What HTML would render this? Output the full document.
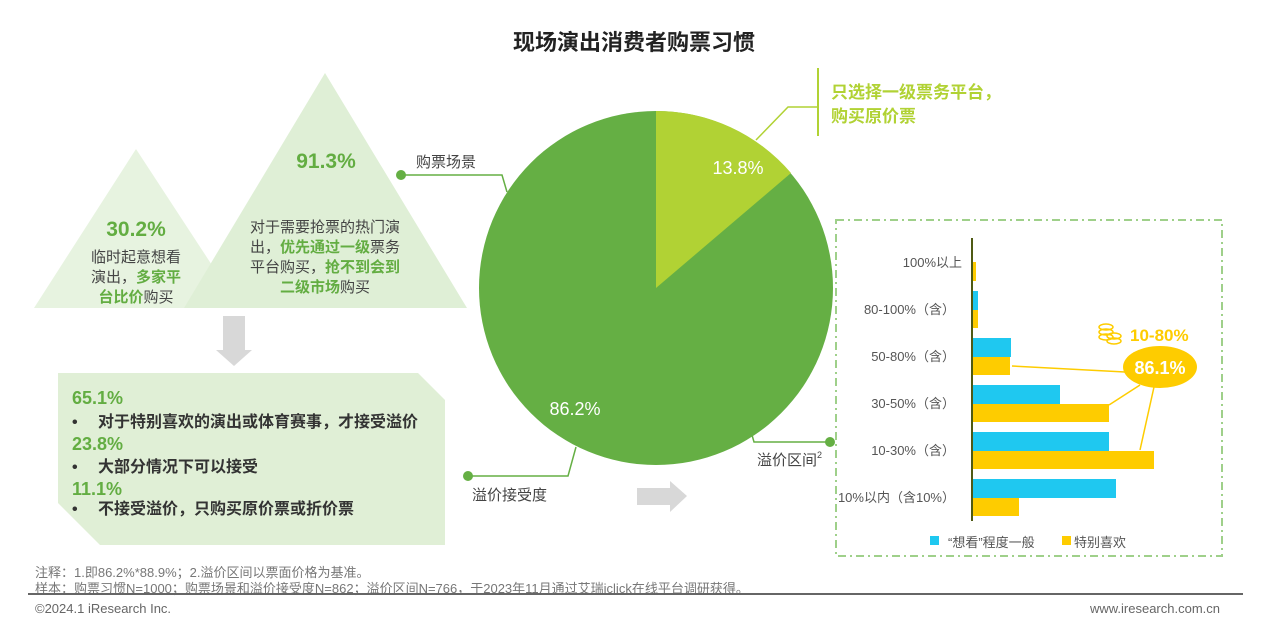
<!DOCTYPE html>
<html><head><meta charset="utf-8"><style>
html,body{margin:0;padding:0;background:#fff;}
svg{display:block;font-family:"Liberation Sans","Noto Sans CJK SC",sans-serif;}
</style></head><body>
<svg width="1262" height="634" viewBox="0 0 1262 634" xmlns="http://www.w3.org/2000/svg">
<text x="634" y="50" text-anchor="middle" font-size="22" font-weight="bold" fill="#222">现场演出消费者购票习惯</text>

<polygon points="136,149 240,308 34,308" fill="#e7f3e0"/>
<polygon points="325,73 467,308 184,308" fill="#dfefd6"/>
<text x="136" y="236" text-anchor="middle" font-size="21" font-weight="bold" fill="#63ad42">30.2%</text>
<text x="136" y="262" text-anchor="middle" font-size="15" fill="#444">临时起意想看</text>
<text x="136" y="282" text-anchor="middle" font-size="15" fill="#444">演出，<tspan fill="#63ad42" font-weight="bold">多家平</tspan></text>
<text x="136" y="302" text-anchor="middle" font-size="15" fill="#444"><tspan fill="#63ad42" font-weight="bold">台比价</tspan>购买</text>
<text x="326" y="168" text-anchor="middle" font-size="21" font-weight="bold" fill="#63ad42">91.3%</text>
<text x="325" y="232" text-anchor="middle" font-size="15" fill="#444">对于需要抢票的热门演</text>
<text x="325" y="252" text-anchor="middle" font-size="15" fill="#444">出，<tspan fill="#63ad42" font-weight="bold">优先通过一级</tspan>票务</text>
<text x="325" y="272" text-anchor="middle" font-size="15" fill="#444">平台购买，<tspan fill="#63ad42" font-weight="bold">抢不到会到</tspan></text>
<text x="325" y="292" text-anchor="middle" font-size="15" fill="#444"><tspan fill="#63ad42" font-weight="bold">二级市场</tspan>购买</text>

<polygon points="223,316 245,316 245,350 252,350 234,366 216,350 223,350" fill="#d8d8d8"/>

<polygon points="58,373 418,373 445,400 445,545 100,545 58,503" fill="#e0efd6"/>
<text x="72" y="404" font-size="18" font-weight="bold" fill="#63ad42">65.1%</text>
<text x="72" y="427" font-size="16" font-weight="bold" fill="#333">•<tspan x="98">对于特别喜欢的演出或体育赛事，才接受溢价</tspan></text>
<text x="72" y="450" font-size="18" font-weight="bold" fill="#63ad42">23.8%</text>
<text x="72" y="472" font-size="16" font-weight="bold" fill="#333">•<tspan x="98">大部分情况下可以接受</tspan></text>
<text x="72" y="495" font-size="18" font-weight="bold" fill="#63ad42">11.1%</text>
<text x="72" y="514" font-size="16" font-weight="bold" fill="#333">•<tspan x="98">不接受溢价，只购买原价票或折价票</tspan></text>

<circle cx="656" cy="288" r="177" fill="#65af44"/>
<path d="M656,288 L656,111 A177,177 0 0,1 791,173 Z" fill="#b1d234"/>
<text x="738" y="174" text-anchor="middle" font-size="18" fill="#fff">13.8%</text>
<text x="575" y="415" text-anchor="middle" font-size="18" fill="#fff">86.2%</text>

<polyline points="401,175 502,175 507,192" fill="none" stroke="#65af44" stroke-width="1.5"/>
<circle cx="401" cy="175" r="5" fill="#65af44"/>
<text x="416" y="167" font-size="15" fill="#444">购票场景</text>
<polyline points="756,140 788,107 818,107" fill="none" stroke="#b1d234" stroke-width="1.5"/>
<rect x="817" y="68" width="2" height="68" fill="#b1d234"/>
<text x="831" y="98" font-size="17" font-weight="bold" fill="#b1d234">只选择一级票务平台，</text>
<text x="831" y="122" font-size="17" font-weight="bold" fill="#b1d234">购买原价票</text>
<polyline points="468,476 568,476 576,447" fill="none" stroke="#65af44" stroke-width="1.5"/>
<circle cx="468" cy="476" r="5" fill="#65af44"/>
<text x="472" y="500" font-size="15" fill="#444">溢价接受度</text>
<polyline points="830,442 754,442 752,435" fill="none" stroke="#65af44" stroke-width="1.5"/>
<circle cx="830" cy="442" r="5" fill="#65af44"/>
<text x="757" y="465" font-size="15" fill="#444">溢价区间<tspan font-size="9" dy="-7">2</tspan></text>

<polygon points="637,488 670,488 670,481 687,496 670,512 670,505 637,505" fill="#d8d8d8"/>

<rect x="836" y="220" width="386" height="336" fill="none" stroke="#9fd08a" stroke-width="2" stroke-dasharray="8,4,2,4"/>

<g font-size="13" fill="#555" text-anchor="end">
<text x="962" y="267">100%以上</text>
<text x="955" y="314">80-100%（含）</text>
<text x="955" y="361">50-80%（含）</text>
<text x="955" y="408">30-50%（含）</text>
<text x="955" y="455">10-30%（含）</text>
<text x="955" y="502">10%以内（含10%）</text>
</g>
<g fill="#1fc8f0">
<rect x="973" y="291" width="5" height="19"/>
<rect x="973" y="338" width="38" height="19"/>
<rect x="973" y="385" width="87" height="19"/>
<rect x="973" y="432" width="136" height="19"/>
<rect x="973" y="479" width="143" height="19"/>
</g>
<g fill="#fecc00">
<rect x="973" y="262" width="3" height="19"/>
<rect x="973" y="310" width="5" height="18"/>
<rect x="973" y="357" width="37" height="18"/>
<rect x="973" y="404" width="136" height="18"/>
<rect x="973" y="451" width="181" height="18"/>
<rect x="973" y="498" width="46" height="18"/>
</g>
<rect x="971" y="238" width="2" height="283" fill="#4f5a14"/>
<g stroke="#fecc00" stroke-width="1.5" fill="none">
<line x1="1012" y1="366" x2="1125" y2="372"/>
<line x1="1109" y1="405" x2="1140" y2="385"/>
<line x1="1140" y1="450" x2="1154" y2="387"/>
</g>
<ellipse cx="1160" cy="367" rx="37" ry="21" fill="#fecc00"/>
<text x="1160" y="374" text-anchor="middle" font-size="18" font-weight="bold" fill="#fff">86.1%</text>
<g fill="none" stroke="#fecc00" stroke-width="1.5">
<ellipse cx="1106" cy="327" rx="7" ry="3"/><ellipse cx="1106" cy="332" rx="7" ry="3"/><ellipse cx="1106" cy="337" rx="7" ry="3"/>
<ellipse cx="1114" cy="336" rx="7" ry="3"/><ellipse cx="1114" cy="341" rx="7" ry="3"/>
</g>
<text x="1130" y="341" font-size="17" font-weight="bold" fill="#fecc00">10-80%</text>
<rect x="930" y="536" width="9" height="9" fill="#1fc8f0"/>
<text x="948" y="547" font-size="13" fill="#555">“想看”程度一般</text>
<rect x="1062" y="536" width="9" height="9" fill="#fecc00"/>
<text x="1074" y="547" font-size="13" fill="#555">特别喜欢</text>

<text x="35" y="577" font-size="13" fill="#777">注释：1.即86.2%*88.9%；2.溢价区间以票面价格为基准。</text>
<text x="35" y="593" font-size="13" fill="#777">样本：购票习惯N=1000；购票场景和溢价接受度N=862；溢价区间N=766，于2023年11月通过艾瑞iclick在线平台调研获得。</text>
<rect x="28" y="593" width="1215" height="2" fill="#666"/>
<text x="35" y="613" font-size="13" fill="#666">©2024.1 iResearch Inc.</text>
<text x="1220" y="613" text-anchor="end" font-size="13" fill="#666">www.iresearch.com.cn</text>
</svg>
</body></html>
